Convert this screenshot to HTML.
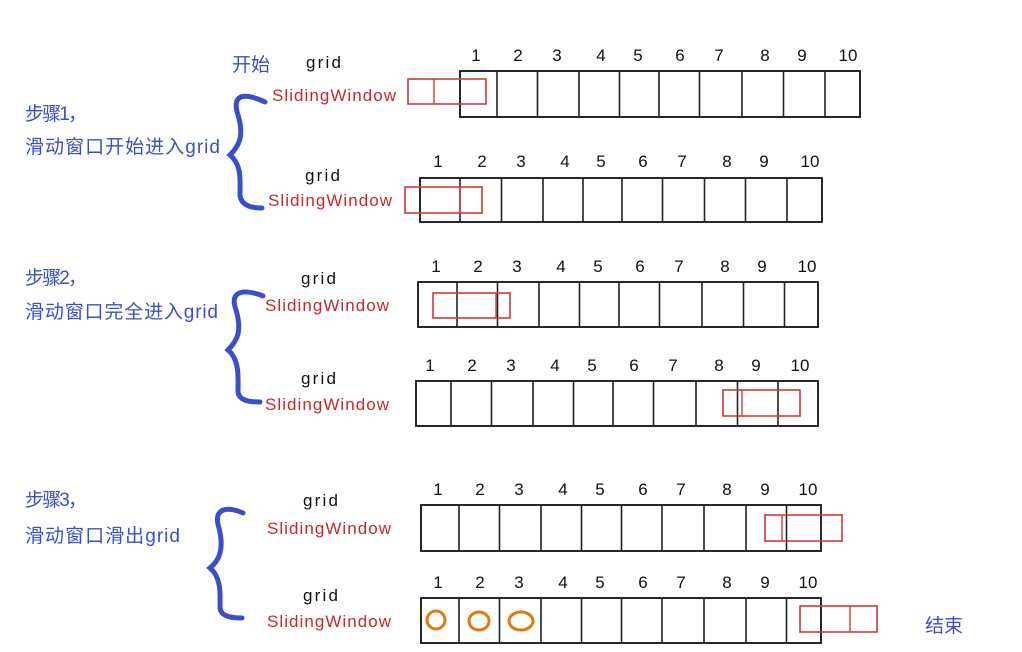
<!DOCTYPE html>
<html><head><meta charset="utf-8"><style>
html,body{margin:0;padding:0;background:#fff;}
svg{display:block;}
.n{font:17px "Liberation Sans",sans-serif;fill:#111;text-anchor:middle;}
.g{font:17px "Liberation Sans",sans-serif;fill:#111;}
.sw{font:17px "Liberation Sans",sans-serif;fill:#c8282c;}
.b{font:19px "Liberation Sans","Noto Sans CJK SC",sans-serif;fill:#3a50c8;}
</style></head><body>
<svg id="s" width="1022" height="652" xmlns="http://www.w3.org/2000/svg">
<g fill="none" stroke="#3a50c8" stroke-width="5" stroke-linecap="round">
<path d="M265,102 C250,95 230,90 238,115 C244,135 240,145 230,155 C242,165 240,180 240,195 C241,205 250,208 262,208"/>
<path d="M263,296 C248,290 228,288 236,310 C242,330 238,340 228,350 C240,360 238,378 238,392 C239,400 248,402 260,402"/>
<path d="M243,513 C230,507 212,506 219,528 C224,548 220,560 210,568 C222,578 220,596 220,608 C221,616 230,618 242,618"/>
</g>
<text class="b" x="232" y="71" textLength="38">开始</text>
<text class="b" x="25" y="120" textLength="62">步骤1，</text>
<text class="b" x="25" y="153" textLength="195">滑动窗口开始进入grid</text>
<text class="b" x="25" y="284" textLength="62">步骤2，</text>
<text class="b" x="25" y="318" textLength="193">滑动窗口完全进入grid</text>
<text class="b" x="25" y="506" textLength="62">步骤3，</text>
<text class="b" x="25" y="542" textLength="155">滑动窗口滑出grid</text>
<text class="b" x="925" y="632" textLength="38">结束</text>
<text class="g" x="306" y="68" textLength="35">grid</text><text class="sw" x="272" y="101" textLength="124">SlidingWindow</text>
<text class="g" x="305" y="181" textLength="35">grid</text><text class="sw" x="268" y="206" textLength="124">SlidingWindow</text>
<text class="g" x="301" y="284" textLength="35">grid</text><text class="sw" x="265" y="311" textLength="124">SlidingWindow</text>
<text class="g" x="301" y="384" textLength="35">grid</text><text class="sw" x="265" y="410" textLength="124">SlidingWindow</text>
<text class="g" x="303" y="506" textLength="35">grid</text><text class="sw" x="267" y="534" textLength="124">SlidingWindow</text>
<text class="g" x="303" y="601" textLength="35">grid</text><text class="sw" x="267" y="627" textLength="124">SlidingWindow</text>
<g fill="none" stroke="#e07a10" stroke-width="3">
<ellipse cx="436" cy="620" rx="9" ry="9"/><ellipse cx="479" cy="621" rx="10" ry="9"/><ellipse cx="521" cy="621" rx="12" ry="9"/>
</g>
</svg>
<script>
var s=document.getElementById('s'),NS='http://www.w3.org/2000/svg';
function el(t,a,txt){var e=document.createElementNS(NS,t);for(var k in a)e.setAttribute(k,a[k]);if(txt)e.textContent=txt;s.appendChild(e);}
var rows=[
[[476,518,557,601,638,680,719,765,802,848],460,860,71,117,55,[408,486,79,104,434]],
[[438,482,521,565,601,643,682,727,764,810],420,822,178,222,161,[405,482,187,213,460]],
[[436,478,517,561,598,640,679,725,762,807],418,818,282,327,266,[433,510,293,318,496]],
[[430,472,511,555,592,634,673,719,756,800],416,818,381,426,365,[723,800,390,416,742]],
[[438,480,519,563,600,643,681,727,765,808],421,821,505,551,489,[765,842,515,541,782]],
[[438,480,519,563,600,643,681,727,765,808],421,821,598,643,582,[800,877,606,632,850]]];
rows.forEach(function(r){
 var xs=r[0],L=r[1],R=r[2],T=r[3],B=r[4];
 el('rect',{x:L,y:T,width:R-L,height:B-T,fill:'none',stroke:'#111','stroke-width':1.8});
 for(var i=0;i<9;i++){var m=(xs[i]+xs[i+1])/2;el('line',{x1:m,y1:T,x2:m,y2:B,stroke:'#222','stroke-width':1.6});}
 xs.forEach(function(x,i){el('text',{'class':'n',x:x,y:r[5]+6},String(i+1));});
 var w=r[6];
 el('rect',{x:w[0],y:w[2],width:w[1]-w[0],height:w[3]-w[2],fill:'none',stroke:'#d23a3a','stroke-width':1.6});
 el('line',{x1:w[4],y1:w[2],x2:w[4],y2:w[3],stroke:'#d23a3a','stroke-width':1.4});
});
</script>
</body></html>
